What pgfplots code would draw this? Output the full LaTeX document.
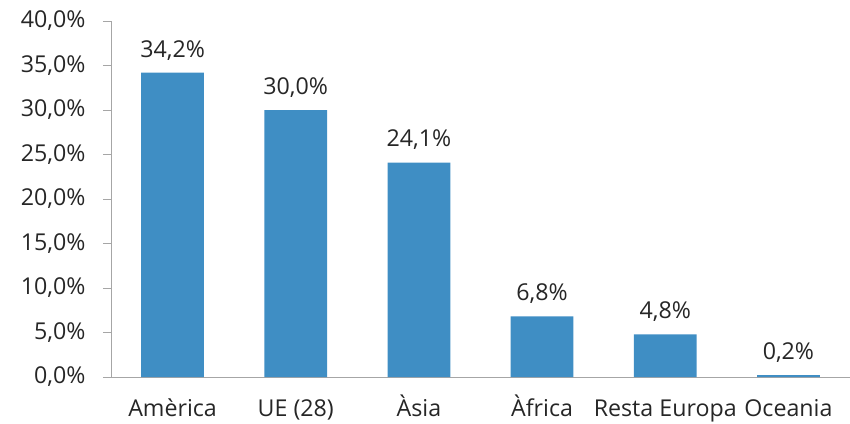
\documentclass[border=0pt]{standalone}
\usepackage{pgfplots}
\pgfplotsset{compat=1.18}
\usepackage{fontspec}
\setmainfont{Open Sans}
\definecolor{barblue}{HTML}{3F8EC4}
\definecolor{axgray}{HTML}{A6A6A6}
\definecolor{txt}{HTML}{262626}
\begin{document}
\begin{tikzpicture}
\path[use as bounding box] (-111bp,-47bp) rectangle (739bp,377bp);
\begin{axis}[
  at={(0,0)}, anchor=south west,
  scale only axis, width=739bp, height=356bp,
  xmin=-0.5, xmax=5.5, ymin=0, ymax=40,
  axis lines=left, axis line style={-, axgray, line width=1pt},
  xtick={0,1,2,3,4,5},
  xticklabels={Amèrica,UE (28),Àsia,Àfrica,Resta Europa,Oceania},
  major x tick style={draw=none},
  extra x ticks={-0.5,0.5,1.5,2.5,3.5,4.5,5.5},
  extra x tick labels={},
  extra x tick style={tick style={axgray, line width=1pt}, major tick length=8bp, tick align=outside},
  ytick={0,5,...,40},
  y tick style={axgray, line width=1pt},
  tick align=outside, major tick length=8bp,
  yticklabel={\pgfmathprintnumber[fixed,fixed zerofill,precision=1,use comma]{\tick}\%},
  /pgf/number format/assume math mode=true,
  ticklabel style={font=\fontsize{23.3}{27}\selectfont, text=txt},
  xticklabel style={text height=0.8em, text depth=0.25em, yshift=-20bp},
  yticklabel style={xshift=-14bp},
  ybar, bar width=0.51,
  nodes near coords={\pgfmathprintnumber[fixed,fixed zerofill,precision=1,use comma]{\pgfplotspointmeta}\%},
  nodes near coords style={font=\fontsize{23.3}{27}\selectfont, text=txt, anchor=south, yshift=9bp},
  clip=false,
]
\addplot[fill=barblue, draw=none] coordinates {(0,34.2) (1,30.0) (2,24.1) (3,6.8) (4,4.8) (5,0.2)};
\end{axis}
\end{tikzpicture}
\end{document}
